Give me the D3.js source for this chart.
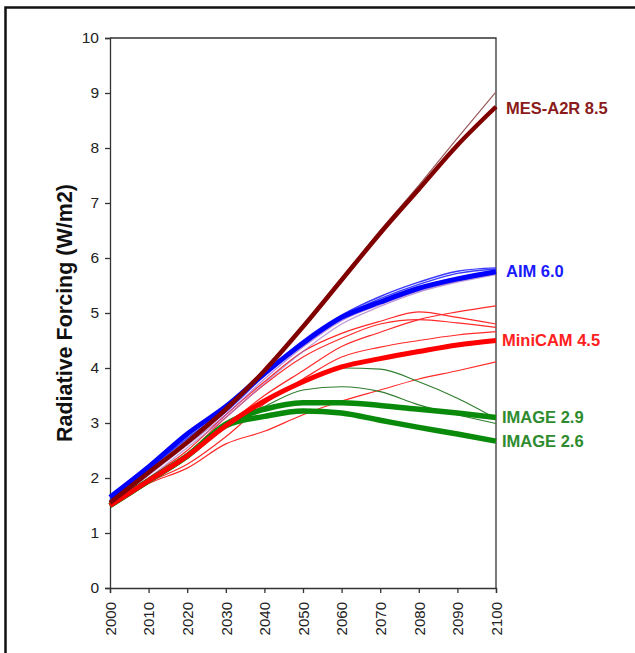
<!DOCTYPE html>
<html>
<head>
<meta charset="utf-8">
<script src="https://cdn.jsdelivr.net/npm/d3@7"></script>
<style>
  body { margin: 0; background: #fff; }
  text { font-family: Arial, "Liberation Sans", sans-serif; }
</style>
</head>
<body>
<div id="chart-area"></div>
<script>

// data (W/m2 per decade)
let years = [2000, 2010, 2020, 2030, 2040, 2050, 2060, 2070, 2080, 2090, 2100];
let yTicks = [0, 1, 2, 3, 4, 5, 6, 7, 8, 9, 10];

let mesMain = [1.55, 2.1, 2.65, 3.25, 3.95, 4.75, 5.6, 6.45, 7.25, 8.05, 8.75];
let mesThin = [1.55, 2.1, 2.65, 3.25, 3.95, 4.75, 5.62, 6.5, 7.32, 8.18, 9.02];

let aimMain = [1.65, 2.2, 2.8, 3.3, 3.9, 4.45, 4.92, 5.2, 5.45, 5.62, 5.75];
let aimThin1 = [1.6, 2.15, 2.72, 3.25, 3.9, 4.5, 4.96, 5.3, 5.56, 5.76, 5.82];
let aimThin2 = [1.6, 2.12, 2.66, 3.2, 3.86, 4.46, 4.93, 5.26, 5.52, 5.72, 5.8];
let aimPurple1 = [1.5, 2.05, 2.6, 3.15, 3.8, 4.38, 4.86, 5.15, 5.4, 5.58, 5.72];
let aimPurple2 = [1.5, 2.0, 2.55, 3.1, 3.72, 4.3, 4.8, 5.12, 5.38, 5.56, 5.7];

let miniMain = [1.5, 1.95, 2.4, 2.95, 3.4, 3.75, 4.02, 4.17, 4.3, 4.42, 4.5];
let miniThin1 = [1.5, 1.9, 2.18, 2.62, 2.85, 3.15, 3.4, 3.6, 3.8, 3.95, 4.11];
let miniThin2 = [1.5, 1.92, 2.25, 2.75, 3.35, 3.8, 4.2, 4.38, 4.5, 4.6, 4.66];
let miniThin3 = [1.5, 1.95, 2.4, 2.95, 3.5, 3.95, 4.39, 4.65, 4.88, 5.02, 5.13];
let miniThin4 = [1.5, 2.0, 2.5, 3.15, 3.75, 4.3, 4.63, 4.85, 5.02, 4.92, 4.8];
let miniThin5 = [1.5, 2.0, 2.45, 3.1, 3.7, 4.2, 4.54, 4.8, 4.88, 4.82, 4.74];

let image29 = [1.5, 1.95, 2.4, 2.98, 3.25, 3.37, 3.37, 3.32, 3.25, 3.18, 3.1];
let image26 = [1.5, 1.95, 2.4, 2.95, 3.12, 3.22, 3.18, 3.05, 2.92, 2.8, 2.67];
let imageThin1 = [1.5, 1.95, 2.4, 3.0, 3.4, 3.75, 4.0, 3.98, 3.75, 3.45, 3.08];
let imageThin2 = [1.5, 1.95, 2.4, 2.98, 3.3, 3.6, 3.66, 3.57, 3.33, 3.15, 2.99];

let labels = ["MES-A2R 8.5", "AIM 6.0", "MiniCAM 4.5", "IMAGE 2.9", "IMAGE 2.6"];
let labelValues = [8.72, 5.76, 4.5, 3.1, 2.66];


let W = 635, H = 653;
let margin = {top: 38, right: 139, bottom: 65, left: 110};
let width = W - margin.left - margin.right,
    height = H - margin.top - margin.bottom;

let root = d3.select("#chart-area").append("svg")
    .attr("width", W)
    .attr("height", H);

// outer frame
root.append("rect")
    .attr("x", 5.5).attr("y", 7.5)
    .attr("width", 660).attr("height", 680)
    .attr("fill", "none")
    .attr("stroke", "#111")
    .attr("stroke-width", 2.5);

let svg = root.append("g")
    .attr("transform", "translate(" + margin.left + "," + margin.top + ")");

let x = d3.scaleLinear().domain([2000, 2100]).range([0, width]);
let y = d3.scaleLinear().domain([0, 10]).range([height, 0]);

// plot frame top & right
svg.append("path")
    .attr("d", "M0,0H" + width + "V" + height)
    .attr("fill", "none")
    .attr("stroke", "#333")
    .attr("stroke-width", 1.3);

let yAxis = d3.axisLeft(y).tickValues(yTicks).tickSize(5).tickPadding(6);
let xAxis = d3.axisBottom(x).tickValues(years).tickSize(5).tickFormat(d3.format("d"));

let yAxisG = svg.append("g").attr("class", "y-axis").call(yAxis);
let xAxisG = svg.append("g").attr("class", "x-axis")
    .attr("transform", "translate(0," + height + ")")
    .call(xAxis);

svg.selectAll(".domain, .tick line").attr("stroke", "#333").attr("stroke-width", 1.3);
yAxisG.selectAll("text").attr("font-size", 15.5).attr("fill", "#222");
xAxisG.selectAll("text")
    .attr("font-size", 15)
    .attr("fill", "#222")
    .attr("transform", "rotate(-90)")
    .attr("text-anchor", "end")
    .attr("x", -14)
    .attr("y", 0)
    .attr("dy", "0.35em");

svg.append("text")
    .attr("transform", "rotate(-90)")
    .attr("x", -275)
    .attr("y", -38)
    .attr("text-anchor", "middle")
    .attr("font-size", 21.5)
    .attr("font-weight", "bold")
    .attr("fill", "#111")
    .text("Radiative Forcing (W/m2)");

let line = d3.line()
    .x((d, i) => x(years[i]))
    .y(d => y(d))
    .curve(d3.curveMonotoneX);

function draw(vals, color, w, op) {
  svg.append("path")
      .datum(vals)
      .attr("d", line)
      .attr("fill", "none")
      .attr("stroke", color)
      .attr("stroke-width", w)
      .attr("stroke-opacity", op || 1)
      .attr("stroke-linejoin", "round");
}

// thin lines first
[miniThin1, miniThin2, miniThin3, miniThin4, miniThin5].forEach(v => draw(v, "#ff2a2a", 1.2));
[imageThin1, imageThin2].forEach(v => draw(v, "#2e7d2e", 1.1));
draw(mesThin, "#9a5a5a", 1.2);
draw(aimPurple1, "#9b59d0", 1.3, 0.7);
draw(aimPurple2, "#a070c8", 1.3, 0.7);
[aimThin1, aimThin2].forEach(v => draw(v, "#3a3aff", 1.4));

// thick scenario lines
draw(image26, "#0a8a0a", 5.5);
draw(image29, "#0a8a0a", 5.5);
draw(miniMain, "#ff0000", 5);
draw(aimMain, "#0000ff", 5);
draw(mesMain, "#800000", 4.5);

// end labels
let labelColors = ["#8b1a1a", "#1a1aff", "#ff2020", "#2e8b2e", "#2e8b2e"];
let labelDx = [10, 10, 6, 6, 6];
svg.selectAll(".end-label")
  .data(labels)
  .enter().append("text")
    .attr("class", "end-label")
    .attr("x", (d, i) => width + labelDx[i])
    .attr("y", (d, i) => y(labelValues[i]))
    .attr("dy", "0.35em")
    .attr("font-size", 16.5)
    .attr("font-weight", "bold")
    .attr("fill", (d, i) => labelColors[i])
    .text(d => d);

</script>
</body>
</html>
